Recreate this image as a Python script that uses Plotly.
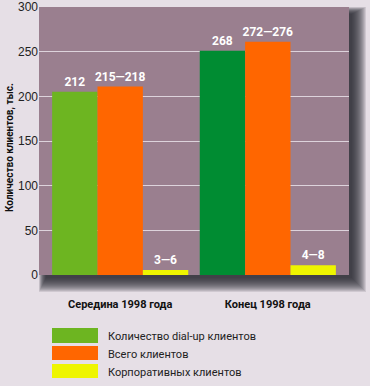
import plotly.graph_objects as go

categories = ["Середина 1998 года", "Конец 1998 года"]
series_names = ["Количество dial-up клиентов", "Всего клиентов", "Корпоративных клиентов"]
dialup_values = [205, 251]
total_values = [211, 261]
corporate_values = [5.5, 11]
dialup_labels = ["212", "268"]
total_labels = ["215—218", "272—276"]
corporate_labels = ["3—6", "4—8"]
y_ticks = [0, 50, 100, 150, 200, 250, 300]

dialup_colors = ["#6db521", "#008c32"]
total_color = "#ff6600"
corporate_color = "#eef500"
legend_colors = ["#6db521", "#ff6600", "#eef500"]

W, H = 370, 386
L, R, T, B = 39, 21, 7, 111
PW, PH = W - L - R, H - T - B

def px(X):
    return (X - L) / PW

def py(Y):
    return (H - B - Y) / PH

cond = "Roboto, Liberation Sans, sans-serif"
xs = list(range(len(categories)))

fig = go.Figure()
fig.add_trace(go.Bar(x=xs, y=dialup_values, name=series_names[0], marker_color=dialup_colors,
                     text=dialup_labels))
fig.add_trace(go.Bar(x=xs, y=total_values, name=series_names[1], marker_color=total_color,
                     text=total_labels))
fig.add_trace(go.Bar(x=xs, y=corporate_values, name=series_names[2], marker_color=corporate_color,
                     text=corporate_labels))
fig.update_traces(textposition="outside", cliponaxis=False, marker_line_width=0,
                  constraintext="none",
                  textfont=dict(family=cond, size=12, color="white", weight="bold"),
                  showlegend=False, hoverinfo="skip")

shapes = []
# soft shadow behind plot area
for s in range(14, -1, -1):
    shapes.append(dict(type="rect", xref="paper", yref="paper", layer="below",
                       x0=px(46 - s / 2), x1=px(352 + s), y0=py(278 + s), y1=py(14 - s / 2),
                       line=dict(width=0), fillcolor="rgba(40,38,48,0.12)"))
# plot area background
shapes.append(dict(type="rect", xref="paper", yref="paper", layer="below",
                   x0=0, x1=1, y0=0, y1=1, line=dict(width=0), fillcolor="#9a7f8f"))

# legend
annotations = []
legend_rows = [(328, 343), (346, 360), (364, 378)]
for (y0, y1), c, n in zip(legend_rows, legend_colors, series_names):
    shapes.append(dict(type="rect", xref="paper", yref="paper", x0=px(52), x1=px(98),
                       y0=py(y1), y1=py(y0), line=dict(width=0), fillcolor=c))
    annotations.append(dict(xref="paper", yref="paper", x=px(106), y=py((y0 + y1) / 2 + 1),
                            text=n, showarrow=False, xanchor="left", yanchor="middle",
                            font=dict(family=cond, size=11, color="#222")))

annotations.append(dict(xref="paper", yref="paper", x=px(10), y=py(148),
                        text="Количество клиентов, тыс.", textangle=-90, showarrow=False,
                        xanchor="center", yanchor="middle",
                        font=dict(family=cond, size=10, color="#111", weight="bold")))

fig.update_layout(
    width=W, height=H,
    margin=dict(l=L, r=R, t=T, b=B, autoexpand=False),
    paper_bgcolor="#e6dfe6",
    plot_bgcolor="rgba(0,0,0,0)",
    barmode="group", bargap=0.078, bargroupgap=0,
    shapes=shapes, annotations=annotations,
    xaxis=dict(range=[-0.55, 1.55], tickvals=xs, ticktext=categories, showgrid=False,
               zeroline=False, showline=False, ticks="", ticklabelstandoff=21,
               tickfont=dict(family=cond, size=11, color="#111", weight="bold")),
    yaxis=dict(range=[0, 300], tickvals=y_ticks, showgrid=True, gridcolor="#ddd3dc",
               gridwidth=1, zeroline=False, showline=False, ticks="",
               tickfont=dict(family="Liberation Sans, Arial, sans-serif", size=12, color="#222")),
    showlegend=False,
)

fig.write_html("out.html", config={"displayModeBar": False},
               post_script="document.body.style.margin='0';")
